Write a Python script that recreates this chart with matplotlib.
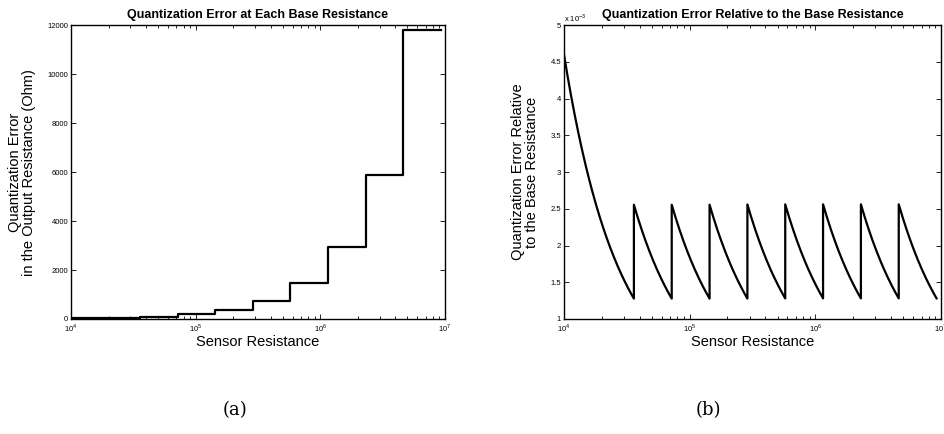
import matplotlib
matplotlib.use("Agg")
import matplotlib.pyplot as plt
from matplotlib.ticker import FixedLocator, LogLocator, NullFormatter
import numpy as np

# breakpoints of the base-resistance ranges (Ohm) and the error in each range
breaks = [1e4, 36000, 72000, 144000, 288000, 576000, 1152000, 2304000, 4608000, 9216000]
q_err = [46, 92, 184, 368, 737, 1475, 2950, 5900, 11800]

x_ticks = [1e4, 1e5, 1e6, 1e7]
x_ticklabels = [r'10$^4$', r'10$^5$', r'10$^6$', r'10$^7$']
left_yticks = [0, 2000, 4000, 6000, 8000, 10000, 12000]
right_yticks = [1, 1.5, 2, 2.5, 3, 3.5, 4, 4.5, 5]

plt.rcParams['font.family'] = ['Liberation Sans', 'DejaVu Sans']
plt.rcParams['mathtext.fontset'] = 'custom'
plt.rcParams['mathtext.rm'] = 'Liberation Sans'


def style_axes(ax):
    ax.set_xscale('log')
    ax.set_xlim(1e4, 1e7)
    ax.xaxis.set_major_locator(FixedLocator(x_ticks))
    ax.set_xticklabels(x_ticklabels)
    ax.xaxis.set_minor_locator(LogLocator(base=10, subs=np.arange(2, 10)))
    ax.xaxis.set_minor_formatter(NullFormatter())
    ax.tick_params(which='both', direction='in', top=True, right=True,
                   labelsize=5.5, width=0.6, pad=2)
    ax.tick_params(which='major', length=3.5)
    ax.tick_params(which='minor', length=2)
    for s in ax.spines.values():
        s.set_linewidth(1.0)
    ax.set_xlabel('Sensor Resistance', fontsize=10.5, labelpad=1)


fig = plt.figure(figsize=(9.45, 4.34), dpi=100)

# (a) step plot of the quantization error
ax1 = fig.add_axes([0.0751, 0.265, 0.3958, 0.677])
ax1.step(breaks, q_err + [q_err[-1]], where='post', color='black', lw=1.6)
style_axes(ax1)
ax1.set_ylim(0, 12000)
ax1.set_yticks(left_yticks)
ax1.set_title('Quantization Error at Each Base Resistance',
              fontsize=9, fontweight='bold', pad=5)
ax1.set_ylabel('Quantization Error\nin the Output Resistance (Ohm)',
               fontsize=10.5, labelpad=8, linespacing=1.0)

# (b) error relative to the sensor resistance
rx, ry = [], []
for k, q in enumerate(q_err):
    r = np.geomspace(breaks[k], breaks[k + 1], 60)
    rx.append(r)
    ry.append(q / r * 1e3)
rx = np.concatenate(rx)
ry = np.concatenate(ry)

ax2 = fig.add_axes([0.5968, 0.265, 0.399, 0.677])
ax2.plot(rx, ry, color='black', lw=1.6)
style_axes(ax2)
ax2.set_ylim(1, 5)
ax2.set_yticks(right_yticks)
ax2.set_yticklabels([f'{v:g}' for v in right_yticks])
ax2.text(0.0, 1.005, r'x 10$^{-3}$', transform=ax2.transAxes,
         fontsize=5.5, ha='left', va='bottom')
ax2.set_title('Quantization Error Relative to the Base Resistance',
              fontsize=9, fontweight='bold', pad=5)
ax2.set_ylabel('Quantization Error Relative\nto the Base Resistance',
               fontsize=10.5, labelpad=8, linespacing=1.0)

fig.text(235 / 945, 1 - 410 / 434, '(a)', fontsize=13, family='DejaVu Serif',
         ha='center', va='center')
fig.text(708 / 945, 1 - 410 / 434, '(b)', fontsize=13, family='DejaVu Serif',
         ha='center', va='center')

fig.savefig('out.png', dpi=100)
